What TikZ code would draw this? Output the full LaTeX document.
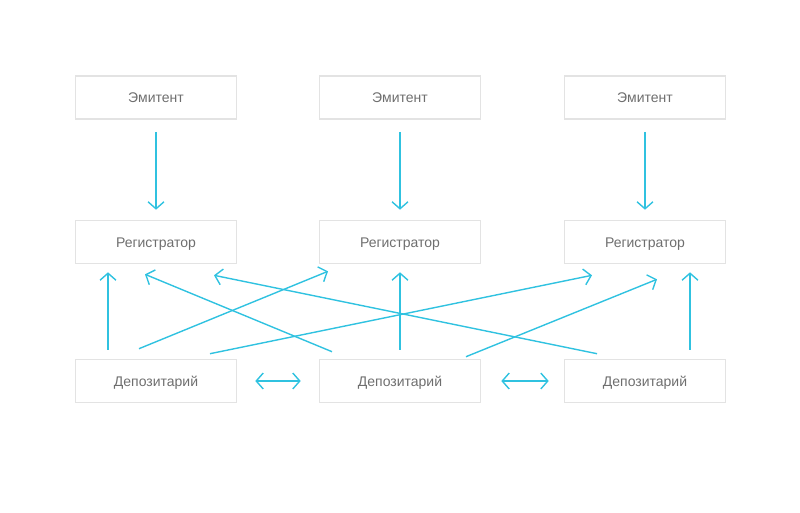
\documentclass[tikz,border=0pt]{standalone}
\usepackage{fontspec}
\setmainfont{Liberation Sans}
\usetikzlibrary{arrows.meta,calc}
\definecolor{linkcyan}{HTML}{30C2E0}
\definecolor{boxgray}{HTML}{E3E3E3}
\definecolor{labelgray}{HTML}{6E6E6E}

\begin{document}
\begin{tikzpicture}[x=1pt,y=-1pt,line width=1.4pt,>={Straight Barb[length=7pt,width=16pt]}]
  \tikzstyle{block}=[draw=boxgray,line width=1.6pt,rectangle,minimum width=161pt,minimum height=43pt,text height=11pt,text depth=1pt,text=labelgray,font=\fontsize{14}{17}\selectfont]
  \tikzstyle{link}=[draw=linkcyan,->]
  \useasboundingbox (0,0) rectangle (800,512);
  \def\ye{97.5}	% row of issuers
  \def\yr{242}	% row of registrars
  \def\yd{381}	% row of depositories
  \foreach \n/\x in {1/156,2/400,3/645} {
    \node[block] (E\n) at (\x,\ye) {Эмитент};
    \node[block] (R\n) at (\x,\yr) {Регистратор};
    \node[block] (D\n) at (\x,\yd) {Депозитарий};
    \draw[link,shorten <=12pt,shorten >=10pt] (E\n) -- (R\n);
  }
  % depository -> registrar
  \draw[link] ($(D1.north)+(-48,-9)$) -- ($(R1.south)+(-48,8)$);
  \draw[link] ($(D2.north)+(0,-9)$) -- ($(R2.south)+(0,8)$);
  \draw[link] ($(D3.north)+(45,-9)$) -- ($(R3.south)+(45,8)$);
  \draw[link] ($(D1.north)+(-17,-10)$) -- ($(R2.south)+(-72,7)$);
  \draw[link] ($(D2.north)+(-68,-7)$) -- ($(R1.south)+(-11,10)$);
  \draw[link] ($(D1.north)+(54,-5)$) -- ($(R3.south)+(-53,11)$);
  \draw[link] ($(D3.north)+(-48,-5)$) -- ($(R1.south)+(58,11)$);
  \draw[link] ($(D2.north)+(66,-2)$) -- ($(R3.south)+(12,15)$);
  % between depositories
  \draw[link,<->,shorten <=18pt,shorten >=18pt] (D1) -- (D2);
  \draw[link,<->,shorten <=20pt,shorten >=15pt] (D2) -- (D3);
\end{tikzpicture}
\end{document}
